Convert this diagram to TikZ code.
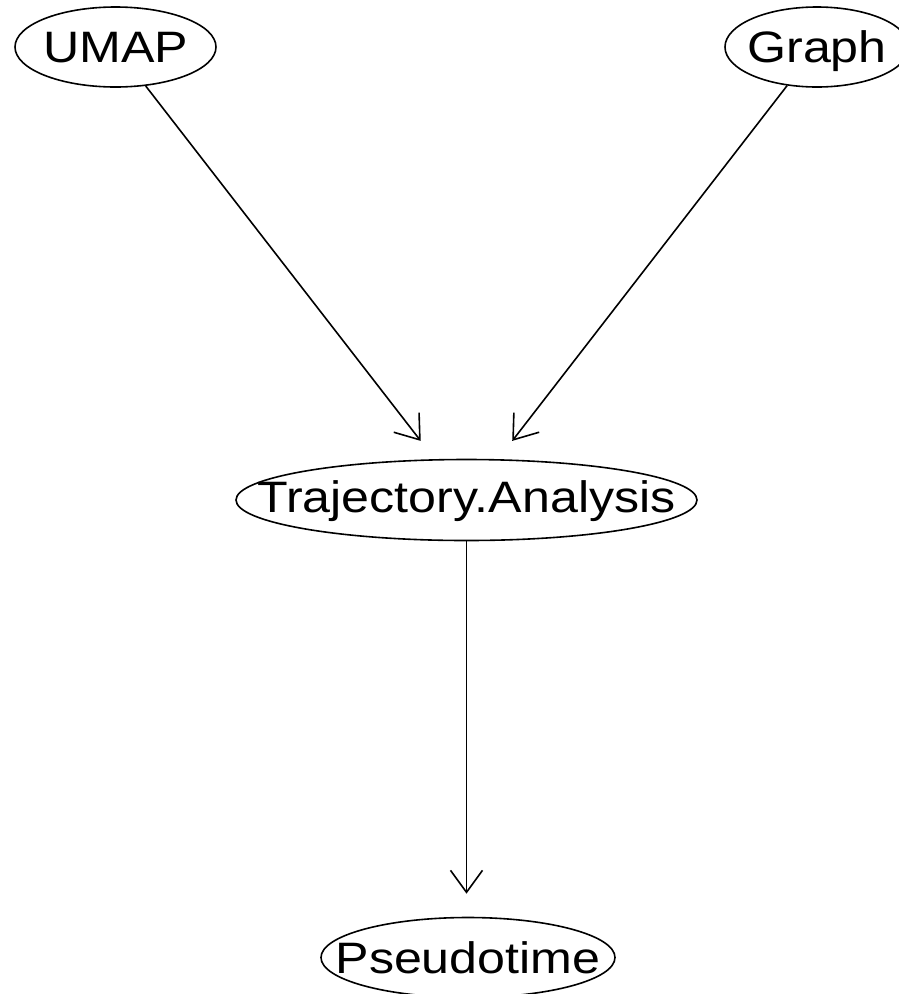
\documentclass[tikz,border=0pt]{standalone}
\usepackage{fontspec}
\setmainfont[FakeStretch=1.14]{Liberation Sans}
\usetikzlibrary{shapes.geometric,arrows.meta}

\tikzset{
  vertex/.style={draw, ellipse, inner sep=0pt, line width=1.6pt,
    text height=31.5pt, text depth=0pt,
    font=\fontsize{44}{50}\selectfont},
  link/.style={line width=1.6pt, shorten >=23pt,
    -{Straight Barb[length=22pt,width=32pt,line width=1.6pt]}}
}

\begin{document}
\begin{tikzpicture}[x=1pt,y=-1pt]
  \useasboundingbox (0,0) rectangle (899,994);
  \clip (0,0) rectangle (899,994);

  % nodes
  \node[vertex, minimum width=201pt, minimum height=80pt] (umap)
    at (115.5,47) {\makebox[0pt]{UMAP}};
  \node[vertex, minimum width=184pt, minimum height=80pt] (graph)
    at (817,47) {\makebox[0pt]{Graph}};
  \node[vertex, minimum width=461pt, minimum height=81pt] (traj)
    at (466.5,500) {\makebox[0pt]{\raisebox{3pt}{Trajectory.Analysis}}};
  \node[vertex, minimum width=294pt, minimum height=80pt] (pseudo)
    at (468,957.5) {\makebox[0pt]{Pseudotime}};

  % edges
  \draw[link] (umap) -- (traj);
  \draw[link] (graph) -- (traj);
  \draw[link] (traj.south) -- (traj.south |- pseudo.north);
\end{tikzpicture}
\end{document}
